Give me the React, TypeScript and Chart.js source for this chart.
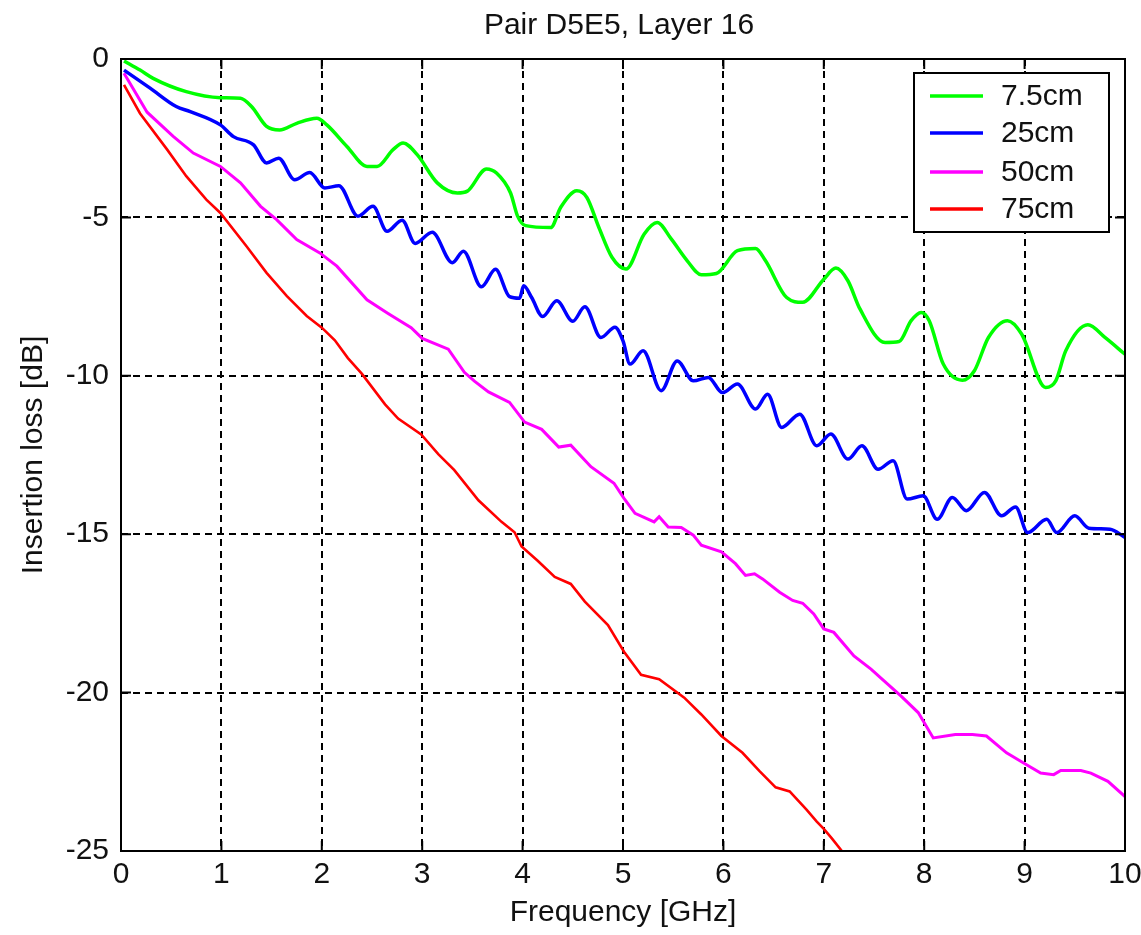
import React, { useEffect, useRef } from "react";
import { Chart, registerables } from "chart.js";

Chart.register(...registerables);

const chartTitle = "Pair D5E5, Layer 16";
const xAxisTitle = "Frequency [GHz]";
const yAxisTitle = "Insertion loss [dB]";
const seriesLabels = ["7.5cm", "25cm", "50cm", "75cm"];
const seriesColors = ["#00ff00", "#0000ff", "#ff00ff", "#ff0000"];
const xTickValues = [0, 1, 2, 3, 4, 5, 6, 7, 8, 9, 10];
const yTickValues = [-25, -20, -15, -10, -5, 0];

const freq75mm = [0.03, 0.19, 0.32, 0.65, 0.99, 1.19, 1.3, 1.45, 1.58, 1.75, 1.95, 2.05, 2.25, 2.45, 2.55, 2.71, 2.81, 2.95, 3.15, 3.35, 3.45, 3.64, 3.74, 3.88, 3.95, 4.03, 4.28, 4.38, 4.54, 4.64, 4.76, 4.89, 5.03, 5.21, 5.34, 5.48, 5.64, 5.78, 5.93, 6.14, 6.32, 6.42, 6.63, 6.79, 7.0, 7.12, 7.24, 7.36, 7.61, 7.75, 7.87, 7.97, 8.05, 8.19, 8.38, 8.5, 8.64, 8.83, 8.97, 9.21, 9.31, 9.41, 9.63, 9.8, 10.0];
const loss75mm = [-0.06, -0.35, -0.61, -1.03, -1.22, -1.24, -1.5, -2.13, -2.24, -2.03, -1.87, -2.08, -2.76, -3.39, -3.39, -2.86, -2.65, -3.02, -3.91, -4.23, -4.17, -3.47, -3.6, -4.23, -4.96, -5.26, -5.32, -4.68, -4.16, -4.37, -5.32, -6.26, -6.63, -5.53, -5.16, -5.68, -6.37, -6.81, -6.77, -6.05, -5.98, -6.37, -7.53, -7.68, -6.95, -6.6, -7.0, -7.89, -8.95, -8.92, -8.26, -8.0, -8.26, -9.63, -10.14, -9.84, -8.79, -8.26, -8.68, -10.37, -10.16, -9.21, -8.39, -8.79, -9.32];

const freq25cm = [0.03, 0.29, 0.55, 0.69, 0.99, 1.12, 1.32, 1.45, 1.57, 1.73, 1.88, 2.03, 2.17, 2.36, 2.51, 2.65, 2.8, 2.93, 3.1, 3.3, 3.41, 3.59, 3.73, 3.87, 3.97, 4.01, 4.09, 4.2, 4.34, 4.5, 4.62, 4.78, 4.92, 5.0, 5.07, 5.2, 5.38, 5.54, 5.7, 5.85, 5.99, 6.14, 6.32, 6.44, 6.58, 6.76, 6.93, 7.07, 7.24, 7.38, 7.54, 7.69, 7.83, 7.99, 8.13, 8.28, 8.42, 8.6, 8.77, 8.91, 9.03, 9.22, 9.32, 9.5, 9.64, 9.85, 10.0];
const loss25cm = [-0.35, -0.92, -1.5, -1.66, -2.08, -2.45, -2.71, -3.28, -3.13, -3.81, -3.58, -4.07, -4.0, -4.96, -4.65, -5.44, -5.09, -5.82, -5.47, -6.43, -6.07, -7.19, -6.64, -7.5, -7.55, -7.16, -7.53, -8.13, -7.63, -8.28, -7.82, -8.79, -8.47, -8.9, -9.63, -9.21, -10.47, -9.53, -10.16, -10.05, -10.53, -10.26, -11.05, -10.58, -11.63, -11.21, -12.21, -11.84, -12.63, -12.21, -12.95, -12.68, -13.89, -13.79, -14.53, -13.84, -14.26, -13.68, -14.42, -14.14, -14.95, -14.53, -14.95, -14.42, -14.81, -14.84, -15.1];

const freq50cm = [0.03, 0.26, 0.52, 0.72, 0.99, 1.19, 1.39, 1.55, 1.75, 1.98, 2.15, 2.45, 2.66, 2.89, 3.0, 3.26, 3.42, 3.52, 3.66, 3.87, 4.02, 4.19, 4.36, 4.48, 4.68, 4.91, 5.01, 5.12, 5.31, 5.36, 5.45, 5.58, 5.7, 5.78, 5.98, 6.12, 6.22, 6.31, 6.39, 6.56, 6.69, 6.79, 6.9, 7.0, 7.1, 7.3, 7.47, 7.6, 7.77, 7.94, 8.09, 8.31, 8.48, 8.62, 8.82, 8.99, 9.16, 9.29, 9.36, 9.56, 9.66, 9.83, 10.0];
const loss50cm = [-0.45, -1.68, -2.44, -2.97, -3.39, -3.91, -4.65, -5.07, -5.7, -6.12, -6.54, -7.6, -8.03, -8.48, -8.82, -9.16, -9.89, -10.17, -10.51, -10.84, -11.46, -11.69, -12.25, -12.19, -12.87, -13.39, -13.87, -14.34, -14.61, -14.45, -14.77, -14.79, -15.03, -15.35, -15.56, -15.93, -16.3, -16.25, -16.41, -16.83, -17.09, -17.18, -17.52, -17.99, -18.1, -18.84, -19.26, -19.63, -20.11, -20.63, -21.43, -21.32, -21.32, -21.37, -21.9, -22.22, -22.54, -22.59, -22.46, -22.46, -22.54, -22.8, -23.28];

const freq75cm = [0.03, 0.19, 0.46, 0.65, 0.85, 0.99, 1.25, 1.45, 1.65, 1.85, 2.0, 2.13, 2.26, 2.4, 2.63, 2.76, 2.99, 3.16, 3.32, 3.56, 3.79, 3.92, 3.99, 4.15, 4.32, 4.48, 4.62, 4.85, 5.01, 5.18, 5.36, 5.61, 5.78, 5.98, 6.19, 6.36, 6.52, 6.66, 6.83, 6.93, 7.0, 7.08, 7.18];
const loss75cm = [-0.82, -1.72, -2.86, -3.7, -4.44, -4.86, -5.91, -6.75, -7.48, -8.11, -8.48, -8.88, -9.44, -9.94, -10.9, -11.35, -11.85, -12.47, -12.98, -13.93, -14.61, -14.94, -15.39, -15.84, -16.35, -16.57, -17.13, -17.87, -18.71, -19.44, -19.58, -20.16, -20.69, -21.37, -21.9, -22.48, -22.99, -23.12, -23.7, -24.07, -24.3, -24.6, -25.0];

const seriesFreqs = [freq75mm, freq25cm, freq50cm, freq75cm];
const seriesLosses = [loss75mm, loss25cm, loss50cm, loss75cm];
const seriesWidths = [3.5, 3.5, 3, 2.6];

const FONT = "'Liberation Sans', Arial, sans-serif";
const FONT_SIZE = 30;
const TEXT_COLOR = "#111";

const framePlugin = {
  id: "matlabFrame",
  afterDraw(chart: any) {
    const { ctx, chartArea, scales } = chart;
    const { left, right, top, bottom } = chartArea;
    ctx.save();
    ctx.strokeStyle = "#000";
    ctx.lineWidth = 2;
    ctx.setLineDash([]);
    const tl = 10;
    ctx.beginPath();
    xTickValues.forEach((v) => {
      const px = scales.x.getPixelForValue(v);
      ctx.moveTo(px, bottom);
      ctx.lineTo(px, bottom - tl);
      ctx.moveTo(px, top);
      ctx.lineTo(px, top + tl);
    });
    yTickValues.forEach((v) => {
      const py = scales.y.getPixelForValue(v);
      ctx.moveTo(left, py);
      ctx.lineTo(left + tl, py);
      ctx.moveTo(right, py);
      ctx.lineTo(right - tl, py);
    });
    ctx.stroke();
    ctx.strokeRect(left, top, right - left, bottom - top);

    ctx.fillStyle = TEXT_COLOR;
    ctx.font = `${FONT_SIZE}px ${FONT}`;
    ctx.textAlign = "center";
    ctx.textBaseline = "middle";
    ctx.fillText(chartTitle, (left + right) / 2 - 4, 26);

    const boxW = 195;
    const boxH = 159;
    const bx = right - 16 - boxW;
    const by = top + 14;
    ctx.fillStyle = "#fff";
    ctx.fillRect(bx, by, boxW, boxH);
    ctx.strokeStyle = "#000";
    ctx.lineWidth = 2;
    ctx.strokeRect(bx, by, boxW, boxH);
    const rowY = [23, 60, 99, 136];
    chart.data.datasets.forEach((ds: any, i: number) => {
      const y = by + rowY[i];
      ctx.strokeStyle = ds.borderColor;
      ctx.lineWidth = 3.5;
      ctx.beginPath();
      ctx.moveTo(bx + 16, y);
      ctx.lineTo(bx + 69, y);
      ctx.stroke();
      ctx.fillStyle = TEXT_COLOR;
      ctx.textAlign = "left";
      ctx.textBaseline = "middle";
      ctx.fillText(ds.label, bx + 87, y + 1);
    });
    ctx.restore();
  },
};

export default function App() {
  const canvasRef = useRef<HTMLCanvasElement | null>(null);

  useEffect(() => {
    document.body.style.margin = "0";
    const canvas = canvasRef.current;
    if (!canvas) return;
    const datasets = seriesLabels.map((label, i) => ({
      label,
      data: seriesFreqs[i].map((f, j) => ({ x: f, y: seriesLosses[i][j] })),
      borderColor: seriesColors[i],
      backgroundColor: seriesColors[i],
      borderWidth: seriesWidths[i],
      pointRadius: 0,
      fill: false,
      cubicInterpolationMode: i <= 1 ? ("monotone" as const) : ("default" as const),
      tension: 0,
    }));

    const chart = new Chart(canvas, {
      type: "line",
      data: { datasets },
      options: {
        animation: false,
        responsive: false,
        maintainAspectRatio: false,
        layout: { padding: { top: 59, right: 16, left: 0, bottom: 0 } },
        plugins: {
          legend: { display: false },
          title: { display: false },
          tooltip: { enabled: false },
        },
        scales: {
          x: {
            type: "linear",
            min: 0,
            max: 10,
            afterBuildTicks: (s: any) => {
              s.ticks = xTickValues.map((v) => ({ value: v }));
            },
            afterFit: (s: any) => {
              s.height = 84;
              s.paddingLeft = 0;
              s.paddingRight = 0;
            },
            ticks: {
              color: TEXT_COLOR,
              font: { family: FONT, size: FONT_SIZE },
              padding: 6,
              maxRotation: 0,
              autoSkip: false,
            },
            grid: { color: "#000", lineWidth: 2, drawTicks: false },
            border: { display: false, dash: [7, 5] },
            title: {
              display: true,
              text: xAxisTitle,
              color: TEXT_COLOR,
              font: { family: FONT, size: FONT_SIZE },
              padding: { top: 0, bottom: 4 },
            },
          },
          y: {
            type: "linear",
            min: -25,
            max: 0,
            afterBuildTicks: (s: any) => {
              s.ticks = yTickValues.map((v) => ({ value: v }));
            },
            afterFit: (s: any) => {
              s.width = 121;
              s.paddingTop = 0;
              s.paddingBottom = 0;
            },
            ticks: {
              color: TEXT_COLOR,
              font: { family: FONT, size: FONT_SIZE },
              padding: 12,
              autoSkip: false,
            },
            grid: { color: "#000", lineWidth: 2, drawTicks: false },
            border: { display: false, dash: [7, 5] },
            title: {
              display: true,
              text: yAxisTitle,
              color: TEXT_COLOR,
              font: { family: FONT, size: FONT_SIZE },
              padding: { top: 16, bottom: 0 },
            },
          },
        },
      },
      plugins: [framePlugin],
    });
    return () => chart.destroy();
  }, []);

  return (
    <div style={{ width: 1141, height: 935 }}>
      <canvas ref={canvasRef} width={1141} height={935} style={{ display: "block" }} />
    </div>
  );
}
